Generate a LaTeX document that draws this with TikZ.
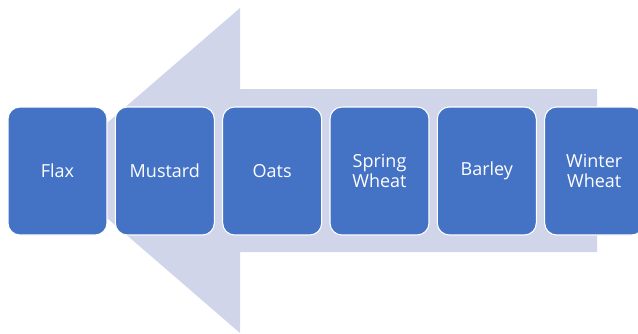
\documentclass[tikz,border=0pt]{standalone}
\usepackage{fontspec}
\setmainfont{Open Sans}
\usetikzlibrary{positioning}

\definecolor{cropblue}{HTML}{4472C4}
\definecolor{arrowgray}{HTML}{D0D5EA}

\tikzset{
    crop/.style={draw=white, line width=0.8pt, fill=cropblue, rounded corners=9pt,
        minimum width=74.25pt, minimum height=96pt, text=white, align=center,
        font=\fontsize{13.5}{14.5}\selectfont}
}

\begin{document}
\begin{tikzpicture}[x=0.75pt, y=-0.75pt, node distance=5.45pt]

            % Fix the frame to the picture size
            \useasboundingbox (0,0) rectangle (638,333);

            % Draw the big arrow pointing left behind the boxes
            \fill[arrowgray] (597,89) -- (240,89) -- (240,8) -- (52,170.5)
                -- (240,333) -- (240,252) -- (597,252) -- cycle;

            % Crop rotation, one box after another
            \node[crop] (flax) at (57.5,171) {Flax};
            \node[crop, right=of flax] (mustard) {Mustard};
            \node[crop, right=of mustard] (oats) {Oats};
            \node[crop, right=of oats] (spring) {Spring\\Wheat};
            \node[crop, right=of spring] (barley) {Barley};
            \node[crop, right=of barley] (winter) {Winter\\Wheat};
        \end{tikzpicture}
\end{document}
